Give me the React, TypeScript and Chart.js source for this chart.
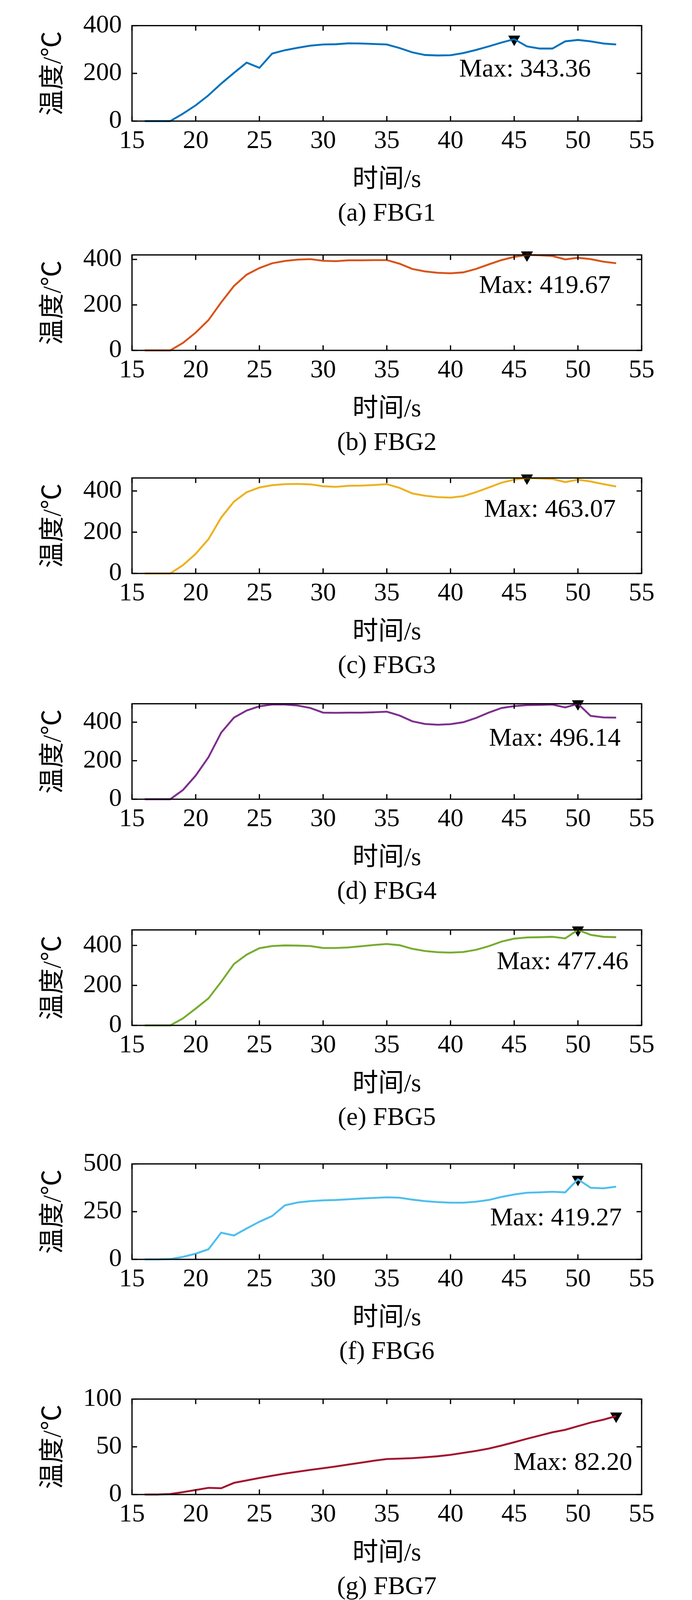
import { useEffect, useRef } from "react";
import { Chart, registerables } from "chart.js";

Chart.register(...registerables);

// time axis (s)
const times = [16, 17, 18, 19, 20, 21, 22, 23, 24, 25, 26, 27, 28, 29, 30, 31, 32, 33, 34, 35, 36, 37, 38, 39, 40, 41, 42, 43, 44, 45, 46, 47, 48, 49, 50, 51, 52, 53];
const xTicks = [15, 20, 25, 30, 35, 40, 45, 50, 55];

// temperature per sensor (°C)
const fbg1 = [0, 0, 0, 31, 66, 108, 157, 202, 245, 223, 283, 297, 307, 316, 321, 322, 326, 325, 323, 321, 306, 288, 277, 275, 276, 285, 298, 313, 329, 343.36, 313, 304, 304, 334, 340, 334, 325, 321];
const fbg2 = [0, 0, 0, 33, 78, 133, 211, 283, 333, 362, 383, 393, 399, 401, 394, 392, 396, 396, 397, 397, 381, 358, 347, 341, 339, 343, 358, 378, 397, 411, 419.67, 418, 415, 400, 407, 401, 390, 383];
const fbg3 = [0, 0, 0, 40, 95, 166, 271, 348, 394, 417, 428, 433, 434, 432, 423, 420, 425, 426, 429, 433, 415, 388, 377, 370, 368, 375, 394, 417, 440, 455, 463.07, 460, 458, 443, 455, 446, 433, 422];
const fbg4 = [0, 0, 0, 48, 123, 218, 346, 424, 461, 483, 492, 492, 487, 474, 450, 449, 450, 450, 452, 455, 435, 405, 391, 387, 390, 400, 422, 450, 474, 484, 489, 490, 492, 477, 496.14, 433, 425, 424];
const fbg5 = [0, 0, 0, 35, 84, 135, 218, 307, 354, 386, 397, 400, 399, 397, 387, 387, 390, 396, 402, 407, 401, 383, 372, 366, 364, 367, 378, 396, 419, 434, 440, 441, 443, 435, 477.46, 453, 443, 441];
const fbg6 = [0, 0, 2, 13, 30, 53, 140, 125, 162, 197, 227, 283, 298, 305, 309, 311, 315, 319, 322, 325, 323, 313, 305, 300, 297, 297, 302, 311, 327, 340, 349, 351, 354, 351, 419.27, 375, 372, 381];
const fbg7 = [0, 0, 0.6, 2.5, 4.8, 7.0, 6.6, 12.2, 14.8, 17.3, 19.7, 21.9, 23.9, 25.8, 27.6, 29.4, 31.5, 33.4, 35.4, 37.2, 37.6, 38.1, 39.0, 40.1, 41.6, 43.6, 45.7, 48.1, 51.3, 54.8, 58.4, 61.8, 65.2, 67.8, 71.6, 75.4, 78.4, 82.2];

const yTicks400 = [0, 200, 400];
const yTicks500 = [0, 250, 500];
const yTicks100 = [0, 50, 100];
const yMaxes = [400, 419.67, 463.07, 496.14, 477.46, 500, 100];

const SERIF = "'Liberation Serif', 'Times New Roman', serif";
const CJK = "'Liberation Serif', 'Noto Sans CJK SC', serif";
const FS = 66;

const W = 1772;
const CH = 600; // canvas height per panel
const PAD_TOP = 40;
const PLOT_H = 270;
const PLOT_L = 338;
const PLOT_R = 1643;

type Panel = {
  letter: string;
  name: string;
  values: number[];
  color: string;
  yMax: number;
  yTicks: number[];
  plotTop: number;
  tipDx: number;
  tipDy: number;
};

const panels: Panel[] = [
  { letter: "a", name: "FBG1", values: fbg1, color: "#0072BD", yMax: yMaxes[0], yTicks: yTicks400, plotTop: 40, tipDx: -141, tipDy: 96 },
  { letter: "b", name: "FBG2", values: fbg2, color: "#D95319", yMax: yMaxes[1], yTicks: yTicks400, plotTop: 627, tipDx: -123, tipDy: 97 },
  { letter: "c", name: "FBG3", values: fbg3, color: "#EDB120", yMax: yMaxes[2], yTicks: yTicks400, plotTop: 1198, tipDx: -110, tipDy: 99 },
  { letter: "d", name: "FBG4", values: fbg4, color: "#7E2F8E", yMax: yMaxes[3], yTicks: yTicks400, plotTop: 1776, tipDx: -228, tipDy: 107 },
  { letter: "e", name: "FBG5", values: fbg5, color: "#77AC30", yMax: yMaxes[4], yTicks: yTicks400, plotTop: 2355, tipDx: -208, tipDy: 100 },
  { letter: "f", name: "FBG6", values: fbg6, color: "#4DBEEE", yMax: yMaxes[5], yTicks: yTicks500, plotTop: 2954, tipDx: -225, tipDy: 118 },
  { letter: "g", name: "FBG7", values: fbg7, color: "#A2142F", yMax: yMaxes[6], yTicks: yTicks100, plotTop: 3556, tipDx: -263, tipDy: 138 },
];

function PanelChart({ p }: { p: Panel }) {
  const ref = useRef<HTMLCanvasElement | null>(null);

  useEffect(() => {
    if (!ref.current) return;
    const ctx = ref.current.getContext("2d");
    if (!ctx) return;

    // find the maximum
    let mi = 0;
    p.values.forEach((v, i) => {
      if (v > p.values[mi]) mi = i;
    });
    const maxT = times[mi];
    const maxV = p.values[mi];

    const decor = {
      id: "decor",
      afterDatasetsDraw(chart: any) {
        const c = chart.ctx;
        const a = chart.chartArea;
        const sx = chart.scales.x;
        const sy = chart.scales.y;
        c.save();
        c.strokeStyle = "#000";
        c.lineWidth = 3.2;
        c.strokeRect(a.left, a.top, a.right - a.left, a.bottom - a.top);
        c.beginPath();
        sx.ticks.forEach((t: any) => {
          const px = sx.getPixelForValue(t.value);
          c.moveTo(px, a.bottom);
          c.lineTo(px, a.bottom - 13);
          c.moveTo(px, a.top);
          c.lineTo(px, a.top + 13);
        });
        sy.ticks.forEach((t: any) => {
          const py = sy.getPixelForValue(t.value);
          c.moveTo(a.left, py);
          c.lineTo(a.left + 13, py);
          c.moveTo(a.right, py);
          c.lineTo(a.right - 13, py);
        });
        c.stroke();

        c.fillStyle = "#000";
        // max label
        const px = sx.getPixelForValue(maxT);
        const py = sy.getPixelForValue(maxV);
        c.font = `${FS}px ${SERIF}`;
        c.textAlign = "left";
        c.textBaseline = "alphabetic";
        c.fillText(`Max: ${maxV.toFixed(2)}`, px + p.tipDx, py + p.tipDy);

        // axis titles and caption
        const cx = (a.left + a.right) / 2;
        c.font = `${FS}px ${CJK}`;
        c.textAlign = "center";
        c.textBaseline = "middle";
        c.fillText("时间/s", cx, a.bottom + 152);
        c.font = `${FS}px ${SERIF}`;
        c.fillText(`(${p.letter}) ${p.name}`, cx, a.bottom + 238);

        c.translate(138, (a.top + a.bottom) / 2);
        c.rotate(-Math.PI / 2);
        c.font = `${FS}px ${CJK}`;
        c.fillText("温度/℃", 0, 0);
        c.restore();
      },
    };

    const tickFont = { family: SERIF, size: FS };

    const chart = new Chart(ctx, {
      type: "line",
      data: {
        datasets: [
          {
            data: times.map((t, i) => ({ x: t, y: p.values[i] })),
            borderColor: p.color,
            borderWidth: 4.8,
            pointRadius: 0,
            tension: 0,
            fill: false,
            clip: false as any,
          },
          {
            data: [{ x: maxT, y: maxV }],
            showLine: false,
            pointStyle: "triangle",
            rotation: 180,
            pointRadius: 17,
            pointBackgroundColor: "#000",
            pointBorderColor: "#000",
            pointBorderWidth: 1,
            clip: false as any,
          },
        ],
      },
      options: {
        animation: false,
        responsive: false,
        maintainAspectRatio: false,
        events: [],
        layout: { padding: { left: 0, right: W - PLOT_R, top: PAD_TOP, bottom: 0 } },
        plugins: { legend: { display: false }, tooltip: { enabled: false } },
        scales: {
          x: {
            type: "linear",
            min: 15,
            max: 55,
            afterBuildTicks: (s: any) => {
              s.ticks = xTicks.map((v) => ({ value: v }));
            },
            afterFit: (s: any) => {
              s.height = CH - PAD_TOP - PLOT_H;
            },
            grid: { display: false, drawTicks: false },
            border: { display: false },
            ticks: { color: "#000", font: tickFont, padding: 12, autoSkip: false, maxRotation: 0 },
          },
          y: {
            type: "linear",
            min: 0,
            max: p.yMax,
            afterBuildTicks: (s: any) => {
              s.ticks = p.yTicks.map((v) => ({ value: v }));
            },
            afterFit: (s: any) => {
              s.width = PLOT_L;
            },
            grid: { display: false, drawTicks: false },
            border: { display: false },
            ticks: { color: "#000", font: tickFont, padding: 26 },
          },
        },
      },
      plugins: [decor],
    });

    return () => {
      chart.destroy();
    };
  }, [p]);

  return (
    <canvas
      ref={ref}
      width={W}
      height={CH}
      style={{ position: "absolute", left: 0, top: p.plotTop - PAD_TOP, width: W, height: CH, display: "block" }}
    />
  );
}

export default function App() {
  return (
    <div style={{ position: "absolute", left: 0, top: 0, width: W, height: 4110, background: "#fff", overflow: "hidden" }}>
      {panels.map((p) => (
        <PanelChart key={p.letter} p={p} />
      ))}
    </div>
  );
}
